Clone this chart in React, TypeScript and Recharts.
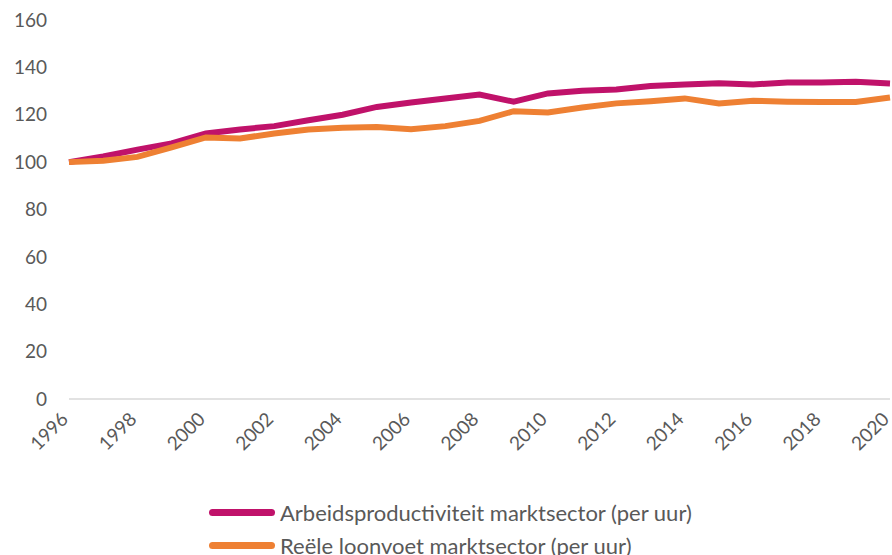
import React from "react";
import { LineChart, Line, XAxis, YAxis, Legend } from "recharts";

const years = [
  "1996", "1997", "1998", "1999", "2000", "2001", "2002", "2003", "2004",
  "2005", "2006", "2007", "2008", "2009", "2010", "2011", "2012", "2013",
  "2014", "2015", "2016", "2017", "2018", "2019", "2020",
];

const productiviteit = [
  100, 102.4, 105.3, 107.9, 112.1, 113.8, 115.2, 117.7, 120, 123.3, 125.2,
  126.9, 128.5, 125.5, 129, 130.1, 130.7, 132.1, 132.8, 133.3, 132.8, 133.6,
  133.6, 133.9, 133.2,
];

const loonvoet = [
  100, 100.6, 102.2, 106.2, 110.4, 110, 112.1, 113.8, 114.5, 114.8, 113.9,
  115.2, 117.4, 121.5, 121, 123.1, 124.8, 125.7, 126.9, 124.8, 125.9, 125.5,
  125.4, 125.4, 127.3,
];

const yTicks = [0, 20, 40, 60, 80, 100, 120, 140, 160];

const seriesNames = [
  "Arbeidsproductiviteit marktsector (per uur)",
  "Reële loonvoet marktsector (per uur)",
];
const colors = ["#C0126A", "#EE8033"];

const data = years.map((year, i) => ({
  year,
  prod: productiviteit[i],
  loon: loonvoet[i],
}));

const FONT = "Lato, 'Open Sans', sans-serif";

// only every other year gets a label, rotated like Excel does
const YearTick = ({ x, y, payload, index }: any) => {
  if (index % 2 !== 0) return null;
  return (
    <g transform={`translate(${x - 9},${y + 4})`}>
      <text
        x={0}
        y={0}
        dy="0.7em"
        textAnchor="end"
        transform="rotate(-45)"
        fill="#595959"
        fontSize={19}
        fontFamily={FONT}
      >
        {payload.value}
      </text>
    </g>
  );
};

const LegendContent = () => (
  <div
    style={{
      fontFamily: FONT,
      fontSize: 22,
      color: "#595959",
      paddingLeft: 209,
      paddingTop: 21,
    }}
  >
    {seriesNames.map((name, i) => (
      <div
        key={name}
        style={{ display: "flex", alignItems: "center", height: 33, whiteSpace: "nowrap" }}
      >
        <span
          style={{
            display: "inline-block",
            width: 66,
            height: 7,
            borderRadius: 4,
            background: colors[i],
            marginRight: 5,
          }}
        />
        <span>{name}</span>
      </div>
    ))}
  </div>
);

export default function App() {
  return (
    <div style={{ position: "absolute", left: 0, top: 0, background: "#fff" }}>
      <LineChart
        width={892}
        height={555}
        data={data}
        margin={{ top: 20, right: 2, left: 0, bottom: 0 }}
      >
        <XAxis
          dataKey="year"
          interval={0}
          tick={<YearTick />}
          tickLine={false}
          axisLine={{ stroke: "#D9D9D9", strokeWidth: 1.5 }}
          height={76}
        />
        <YAxis
          domain={[0, 160]}
          ticks={yTicks}
          width={69}
          axisLine={false}
          tickLine={false}
          tickSize={0}
          tickMargin={22}
          tick={{ fill: "#595959", fontSize: 19, fontFamily: FONT }}
        />
        <Legend
          verticalAlign="bottom"
          content={<LegendContent />}
          wrapperStyle={{ height: 80, left: 0, width: 892 }}
        />
        <Line
          dataKey="prod"
          name={seriesNames[0]}
          stroke={colors[0]}
          strokeWidth={6}
          dot={false}
          isAnimationActive={false}
        />
        <Line
          dataKey="loon"
          name={seriesNames[1]}
          stroke={colors[1]}
          strokeWidth={6}
          dot={false}
          isAnimationActive={false}
        />
      </LineChart>
    </div>
  );
}
